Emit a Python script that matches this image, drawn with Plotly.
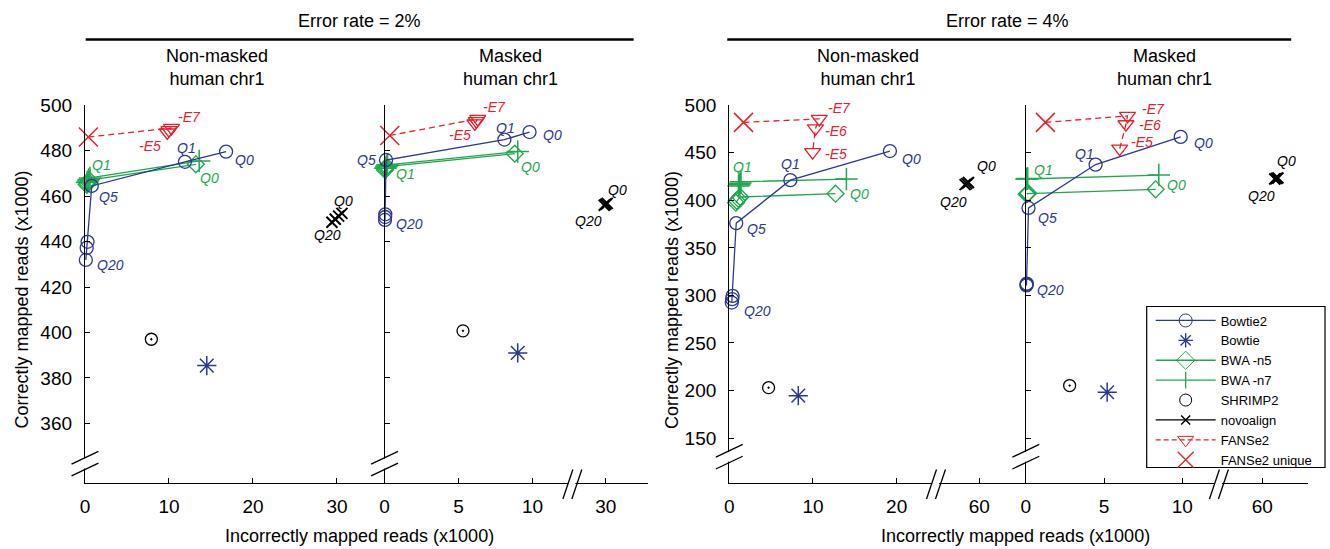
import plotly.graph_objects as go

W, H = 1330, 549
FONT = "Liberation Sans, Arial, sans-serif"
BLUE = "#2b3990"
GREEN = "#1fa84f"
RED = "#e8202a"
BLACK = "#000000"

# ---------------- data (x1000 reads) ----------------
# panels: e2n = error 2% non-masked, e2m = error 2% masked, e4n, e4m
bowtie2_x_e2n = [16.8, 11.9, 0.8, 0.3, 0.2, 0.1]
bowtie2_y_e2n = [479.6, 475.1, 464.5, 439.9, 437.2, 431.9]
bowtie2_x_e2m = [9.8, 8.1, 0.1, 0.05, 0.04, 0.03]
bowtie2_y_e2m = [488.2, 484.9, 475.9, 452.0, 450.8, 449.5]
bowtie2_x_e4n = [19.2, 7.3, 0.83, 0.4, 0.35, 0.3]
bowtie2_y_e4n = [451.8, 421.2, 376.0, 299.5, 296.0, 292.5]
bowtie2_x_e4m = [9.9, 4.46, 0.17, 0.06, 0.05, 0.04]
bowtie2_y_e4m = [466.7, 437.6, 392.0, 312.5, 311.5, 310.5]

bowtie_x = {"e2n": 14.5, "e2m": 9.0, "e4n": 8.25, "e4m": 5.2}
bowtie_y = {"e2n": 385.4, "e2m": 391.0, "e4n": 194.6, "e4m": 198.2}

bwa5_x_e2n = [13.2, 0.5, 0.4, 0.3, 0.2]
bwa5_y_e2n = [474.0, 467.0, 466.3, 465.6, 465.0]
bwa5_x_e2m = [8.8, 0.15, 0.1, 0.06, 0.03]
bwa5_y_e2m = [478.7, 473.0, 472.5, 472.0, 471.5]
bwa5_x_e4n = [12.7, 1.3, 1.1, 0.9, 0.8]
bwa5_y_e4n = [407.0, 403.5, 401.5, 399.5, 397.5]
bwa5_x_e4m = [8.3, 0.15, 0.1, 0.05]
bwa5_y_e4m = [411.6, 407.5, 407.0, 406.5]

bwa7_x_e2n = [13.6, 0.6, 0.45, 0.35, 0.25]
bwa7_y_e2n = [475.5, 468.0, 467.3, 466.6, 466.0]
bwa7_x_e2m = [9.0, 0.2, 0.15, 0.1, 0.05]
bwa7_y_e2m = [479.6, 473.8, 473.3, 472.8, 472.3]
bwa7_x_e4n = [14.0, 1.4, 1.3, 1.2, 1.1]
bwa7_y_e4n = [422.3, 419.5, 418.0, 416.5, 415.0]
bwa7_x_e4m = [8.5, 0.12, 0.08, 0.04]
bwa7_y_e4m = [426.6, 423.0, 422.7, 422.4]

shrimp2_x = {"e2n": 7.9, "e2m": 5.3, "e4n": 4.7, "e4m": 2.8}
shrimp2_y = {"e2n": 397.0, "e2m": 400.7, "e4n": 203.0, "e4m": 205.2}

novo_x_e2n = [29.4, 29.8, 30.2, 30.6]
novo_y_e2n = [448.5, 449.8, 451.2, 452.4]
novo_x_e2m = [29.9, 30.0, 30.1]
novo_y_e2m = [456.0, 456.4, 456.8]
novo_x_e4n = [58.3, 58.5, 58.7]
novo_y_e4n = [416.5, 417.6, 418.7]
novo_x_e4m = [60.8, 60.9, 61.0]
novo_y_e4m = [422.5, 423.0, 423.5]

# FANSe2 order: -E7, -E6, -E5
fanse2_x_e2n = [10.3, 10.0, 9.8]
fanse2_y_e2n = [490.0, 489.0, 488.0]
fanse2_x_e2m = [6.3, 6.2, 6.1]
fanse2_y_e2m = [494.0, 493.0, 492.0]
fanse2_x_e4n = [10.75, 10.3, 9.96]
fanse2_y_e4n = [485.6, 475.6, 450.7]
fanse2_x_e4m = [6.5, 6.4, 6.0]
fanse2_y_e4m = [488.8, 480.0, 454.3]

fanse2u_x = {"e2n": 0.4, "e2m": 0.35, "e4n": 1.7, "e4m": 1.25}
fanse2u_y = {"e2n": 486.0, "e2m": 486.7, "e4n": 482.0, "e4m": 482.0}

x_ticks_e2n = [0, 10, 20, 30]
x_ticks_e2m = [0, 5, 10]
x_ticks_e2m_far = [30]
x_ticks_e4n = [0, 10, 20]
x_ticks_e4n_far = [60]
x_ticks_e4m = [0, 5, 10]
x_ticks_e4m_far = [60]
y_ticks_e2 = [360, 380, 400, 420, 440, 460, 480, 500]
y_ticks_e4 = [150, 200, 250, 300, 350, 400, 450, 500]

DATA = {
    "e2n": dict(b2=(bowtie2_x_e2n, bowtie2_y_e2n), b5=(bwa5_x_e2n, bwa5_y_e2n), b7=(bwa7_x_e2n, bwa7_y_e2n),
                nv=(novo_x_e2n, novo_y_e2n), fs=(fanse2_x_e2n, fanse2_y_e2n)),
    "e2m": dict(b2=(bowtie2_x_e2m, bowtie2_y_e2m), b5=(bwa5_x_e2m, bwa5_y_e2m), b7=(bwa7_x_e2m, bwa7_y_e2m),
                nv=(novo_x_e2m, novo_y_e2m), fs=(fanse2_x_e2m, fanse2_y_e2m)),
    "e4n": dict(b2=(bowtie2_x_e4n, bowtie2_y_e4n), b5=(bwa5_x_e4n, bwa5_y_e4n), b7=(bwa7_x_e4n, bwa7_y_e4n),
                nv=(novo_x_e4n, novo_y_e4n), fs=(fanse2_x_e4n, fanse2_y_e4n)),
    "e4m": dict(b2=(bowtie2_x_e4m, bowtie2_y_e4m), b5=(bwa5_x_e4m, bwa5_y_e4m), b7=(bwa7_x_e4m, bwa7_y_e4m),
                nv=(novo_x_e4m, novo_y_e4m), fs=(fanse2_x_e4m, fanse2_y_e4m)),
}

AXES = {"e2n": ("x", "y"), "e2m": ("x2", "y2"), "e4n": ("x4", "y3"), "e4m": ("x6", "y4")}
NOVO_AXES = {"e2n": ("x", "y"), "e2m": ("x3", "y2"), "e4n": ("x5", "y3"), "e4m": ("x7", "y4")}

# label placement: (series, index, text, xshift, yshift, anchor)
LABELS = {
    "e2n": [("b2", 0, "Q0", 7, -8, "left"), ("b2", 1, "Q1", 2, 14, "center"), ("b2", 2, "Q5", 5, -11, "left"),
            ("b2", 5, "Q20", 9, -5, "left"), ("b5", 0, "Q0", 2, -14, "left"), ("b5", 1, "Q1", 1, 15, "left"),
            ("fs", 0, "-E7", 5, 11, "left"), ("fs", 2, "-E5", -4, -13, "right"),
            ("nv", 3, "Q0", 2, 12, "center"), ("nv", 0, "Q20", -4, -13, "center")],
    "e2m": [("b2", 0, "Q0", 11, -3, "left"), ("b2", 1, "Q1", 1, 12, "center"), ("b2", 2, "Q5", -8, 0, "right"),
            ("b2", 5, "Q20", 9, -4, "left"), ("b5", 0, "Q0", 4, -13, "left"), ("b5", 1, "Q1", 7, -7, "left"),
            ("fs", 0, "-E7", 3, 12, "left"), ("fs", 2, "-E5", -2, -12, "right"),
            ("nv", 2, "Q0", 10, 13, "center"), ("nv", 0, "Q20", -16, -16, "center")],
    "e4n": [("b2", 0, "Q0", 10, -8, "left"), ("b2", 1, "Q1", 0, 16, "center"), ("b2", 2, "Q5", 9, -6, "left"),
            ("b2", 5, "Q20", 10, -8, "left"), ("b7", 1, "Q1", 2, 15, "center"), ("b5", 0, "Q0", 12, 0, "left"),
            ("fs", 0, "-E7", 7, 11, "left"), ("fs", 1, "-E6", 8, -3, "left"), ("fs", 2, "-E5", 10, -2, "left"),
            ("nv", 2, "Q0", 18, 17, "center"), ("nv", 0, "Q20", -12, -17, "center")],
    "e4m": [("b2", 0, "Q0", 11, -6, "left"), ("b2", 1, "Q1", -11, 11, "center"), ("b2", 2, "Q5", 7, -10, "left"),
            ("b2", 5, "Q20", 9, -5, "left"), ("b7", 1, "Q1", 4, 8, "left"), ("b5", 0, "Q0", 9, 4, "left"),
            ("fs", 0, "-E7", 12, 7, "left"), ("fs", 1, "-E6", 11, -1, "left"), ("fs", 2, "-E5", 9, 7, "left"),
            ("nv", 2, "Q0", 9, 17, "center"), ("nv", 0, "Q20", -13, -17, "center")],
}
LABEL_COLORS = {"b2": BLUE, "b5": GREEN, "b7": GREEN, "fs": RED, "nv": BLACK}

# ---------------- figure ----------------
fig = go.Figure()


def px(x):
    return x / W


def py(y):
    return 1 - y / H


LW = 1.3
for key, (xa, ya) in AXES.items():
    d = DATA[key]
    nxa, nya = NOVO_AXES[key]
    common = dict(xaxis=xa, yaxis=ya, showlegend=False, cliponaxis=False, hoverinfo="skip")
    fig.add_trace(go.Scatter(x=[fanse2u_x[key]] + d["fs"][0], y=[fanse2u_y[key]] + d["fs"][1], mode="lines",
                             line=dict(color=RED, width=LW, dash="6px,4px"), **common))
    fig.add_trace(go.Scatter(x=d["fs"][0], y=d["fs"][1], mode="markers",
                             marker=dict(symbol="triangle-down-open", size=14, color=RED, line=dict(width=1.3)), **common))
    fig.add_trace(go.Scatter(x=[fanse2u_x[key]], y=[fanse2u_y[key]], mode="markers",
                             marker=dict(symbol="x-thin-open", size=19, color=RED, line=dict(width=1.5, color=RED)), **common))
    fig.add_trace(go.Scatter(x=d["b5"][0], y=d["b5"][1], mode="lines+markers", line=dict(color=GREEN, width=LW),
                             marker=dict(symbol="diamond-open", size=13, color=GREEN, line=dict(width=1.3)), **common))
    fig.add_trace(go.Scatter(x=d["b7"][0], y=d["b7"][1], mode="lines+markers", line=dict(color=GREEN, width=LW),
                             marker=dict(symbol="cross-thin-open", size=16, color=GREEN, line=dict(width=1.5, color=GREEN)), **common))
    fig.add_trace(go.Scatter(x=d["b2"][0], y=d["b2"][1], mode="lines+markers", line=dict(color=BLUE, width=LW),
                             marker=dict(symbol="circle-open", size=13, color=BLUE, line=dict(width=1.3)), **common))
    fig.add_trace(go.Scatter(x=[bowtie_x[key]], y=[bowtie_y[key]], mode="markers",
                             marker=dict(symbol="asterisk-open", size=16, color=BLUE, line=dict(width=1.5, color=BLUE)), **common))
    fig.add_trace(go.Scatter(x=[shrimp2_x[key]], y=[shrimp2_y[key]], mode="markers",
                             marker=dict(symbol="circle-open-dot", size=12, color=BLACK, line=dict(width=1.3)), **common))
    ncommon = dict(common)
    ncommon.update(xaxis=nxa, yaxis=nya)
    fig.add_trace(go.Scatter(x=d["nv"][0], y=d["nv"][1], mode="lines+markers", line=dict(color=BLACK, width=LW),
                             marker=dict(symbol="x-thin-open", size=11, color=BLACK, line=dict(width=2, color=BLACK)), **ncommon))
    for ser, idx, txt, dx, dy, anc in LABELS[key]:
        sx, sy = d[ser]
        axx = nxa if ser == "nv" else xa
        axy = nya if ser == "nv" else ya
        fig.add_annotation(x=sx[idx], y=sy[idx], xref=axx, yref=axy, text=f"<i>{txt}</i>", showarrow=False,
                           xshift=dx, yshift=dy, xanchor=anc, yanchor="middle",
                           font=dict(family=FONT, size=14, color=LABEL_COLORS[ser]))

# legend-only traces
leg = dict(x=[None], y=[None], xaxis="x", yaxis="y")
fig.add_trace(go.Scatter(name="Bowtie2", mode="lines+markers", line=dict(color=BLUE, width=LW),
                         marker=dict(symbol="circle-open", size=13, color=BLUE), **leg))
fig.add_trace(go.Scatter(name="Bowtie", mode="markers",
                         marker=dict(symbol="asterisk-open", size=12, color=BLUE, line=dict(width=1.3, color=BLUE)), **leg))
fig.add_trace(go.Scatter(name="BWA -n5", mode="lines+markers", line=dict(color=GREEN, width=LW),
                         marker=dict(symbol="diamond-open", size=14, color=GREEN), **leg))
fig.add_trace(go.Scatter(name="BWA -n7", mode="lines+markers", line=dict(color=GREEN, width=LW),
                         marker=dict(symbol="line-ns-open", size=12, color=GREEN, line=dict(width=1.3, color=GREEN)), **leg))
fig.add_trace(go.Scatter(name="SHRIMP2", mode="markers",
                         marker=dict(symbol="circle-open", size=12, color=BLACK), **leg))
fig.add_trace(go.Scatter(name="novoalign", mode="lines+markers", line=dict(color=BLACK, width=LW),
                         marker=dict(symbol="x-thin-open", size=9, color=BLACK, line=dict(width=1.5, color=BLACK)), **leg))
fig.add_trace(go.Scatter(name="FANSe2", mode="lines+markers", line=dict(color=RED, width=LW, dash="5px,3px"),
                         marker=dict(symbol="triangle-down-open", size=14, color=RED), **leg))
fig.add_trace(go.Scatter(name="FANSe2 unique", mode="markers",
                         marker=dict(symbol="x-thin-open", size=20, color=RED, line=dict(width=1.3, color=RED)), **leg))

# ---------------- axes ----------------
TOP, BOT = 97.0, 482.0
ydom = [py(BOT), py(TOP)]
axis_style = dict(showline=True, linecolor=BLACK, linewidth=1.3, ticks="inside", ticklen=5, tickcolor=BLACK,
                  tickwidth=1.2, showgrid=False, zeroline=False, tickfont=dict(family=FONT, size=19, color=BLACK),
                  fixedrange=True)


def xax(d0, d1, rng, ticks, anchor):
    return dict(domain=[px(d0), px(d1)], range=rng, tickvals=ticks, anchor=anchor, ticklabelstandoff=6, **axis_style)


# pixel layout of panels
L1, L2, B2, E2 = 80.3, 381.0, 569.0, 645.0
L3, B3, L4, B4, E4 = 727.0, 934.0, 1024.7, 1218.0, 1308.0
S1, S2, S3, S4 = 8.43, 14.85, 8.4, 15.7
Y2_PX, Y4_PX = (421.0 - TOP) / 140.0, (436.0 - TOP) / 350.0
fig.update_layout(
    xaxis=xax(L1, L2, [0, (L2 - L1) / S1], x_ticks_e2n, "y"),
    xaxis2=xax(L2, B2, [0, (B2 - L2) / S2], x_ticks_e2m, "y2"),
    xaxis3=xax(B2, E2, [30 - 34 / S2, 30 + (E2 - B2 - 34) / S2], x_ticks_e2m_far, "y2"),
    xaxis4=xax(L3, B3, [0, (B3 - L3) / S3], x_ticks_e4n, "y3"),
    xaxis5=xax(B3, L4, [60 - 44 / S3, 60 + (L4 - B3 - 44) / S3], x_ticks_e4n_far, "y3"),
    xaxis6=xax(L4, B4, [0, (B4 - L4) / S4], x_ticks_e4m, "y4"),
    xaxis7=xax(B4, E4, [60 - 44 / S4, 60 + (E4 - B4 - 44) / S4], x_ticks_e4m_far, "y4"),
    yaxis=dict(domain=ydom, range=[500 - (BOT - TOP) / Y2_PX, 500], tickvals=y_ticks_e2, anchor="x",
               ticklabelstandoff=8, **axis_style),
    yaxis2=dict(domain=ydom, range=[500 - (BOT - TOP) / Y2_PX, 500], tickvals=y_ticks_e2, anchor="x2",
                showticklabels=False, **axis_style),
    yaxis3=dict(domain=ydom, range=[500 - (BOT - TOP) / Y4_PX, 500], tickvals=y_ticks_e4, anchor="x4",
                ticklabelstandoff=8, **axis_style),
    yaxis4=dict(domain=ydom, range=[500 - (BOT - TOP) / Y4_PX, 500], tickvals=y_ticks_e4, anchor="x6",
                showticklabels=False, **axis_style),
)

# ---------------- decorations ----------------
shapes = []
for x0, x1 in [(81, 631), (725, 1291)]:
    shapes.append(dict(type="line", xref="paper", yref="paper", x0=px(x0), x1=px(x1), y0=py(30), y1=py(30),
                       line=dict(color=BLACK, width=2.5)))
for xc, (yu, yl) in [(L1, (456, 468)), (L2, (456, 468)), (L3, (449, 461)), (L4, (449, 461))]:
    shapes.append(dict(type="line", xref="paper", yref="paper", x0=px(xc), x1=px(xc), y0=py(yu + 1), y1=py(yl - 1),
                       line=dict(color="white", width=4)))
    for yc in (yu, yl):
        shapes.append(dict(type="line", xref="paper", yref="paper", x0=px(xc - 13.5), x1=px(xc + 13.5),
                           y0=py(yc + 6.5), y1=py(yc - 6.5), line=dict(color=BLACK, width=1.3)))
for xc in (B2, B3, B4):
    shapes.append(dict(type="line", xref="paper", yref="paper", x0=px(xc - 3.5), x1=px(xc + 3.5), y0=py(BOT), y1=py(BOT),
                       line=dict(color="white", width=4)))
    for k in (0, 1):
        xb = xc - 9 + 9 * k
        shapes.append(dict(type="line", xref="paper", yref="paper", x0=px(xb), x1=px(xb + 10),
                           y0=py(BOT + 16), y1=py(BOT - 14), line=dict(color=BLACK, width=1.3)))
# legend frame (drawn as a box so its size matches the original)
shapes.append(dict(type="rect", xref="paper", yref="paper", x0=px(1146), x1=px(1325), y0=py(466), y1=py(302),
                   fillcolor="white", line=dict(color=BLACK, width=1.2), layer="above"))
fig.update_layout(shapes=shapes)

TFONT = dict(family=FONT, size=18, color=BLACK)
texts = [
    ("Error rate = 2%", 356, 11, 0), ("Error rate = 4%", 1006, 11, 0),
    ("Non-masked<br>human chr1", 213, 59, 0), ("Masked<br>human chr1", 507, 59, 0),
    ("Non-masked<br>human chr1", 866, 59, 0), ("Masked<br>human chr1", 1164, 59, 0),
    ("Incorrectly mapped reads (x1000)", 356, 536, 0), ("Incorrectly mapped reads (x1000)", 1014, 536, 0),
    ("Correctly mapped reads (x1000)", 17, 295, -90), ("Correctly mapped reads (x1000)", 669, 295, -90),
]
for t, x, y, ang in texts:
    fig.add_annotation(x=px(x), y=py(y), xref="paper", yref="paper", text=t, showarrow=False, textangle=ang,
                       xanchor="center", yanchor="middle", font=TFONT)

fig.update_layout(
    width=W, height=H, margin=dict(l=0, r=0, t=0, b=0),
    paper_bgcolor="white", plot_bgcolor="white",
    font=dict(family=FONT, color=BLACK),
    showlegend=True,
    legend=dict(x=px(1150), y=py(301), xanchor="left", yanchor="top", bgcolor="rgba(0,0,0,0)",
                borderwidth=0, font=dict(family=FONT, size=13, color=BLACK), itemwidth=60,
                tracegroupgap=0, itemsizing="trace"),
)

fig.write_html("out.html")
